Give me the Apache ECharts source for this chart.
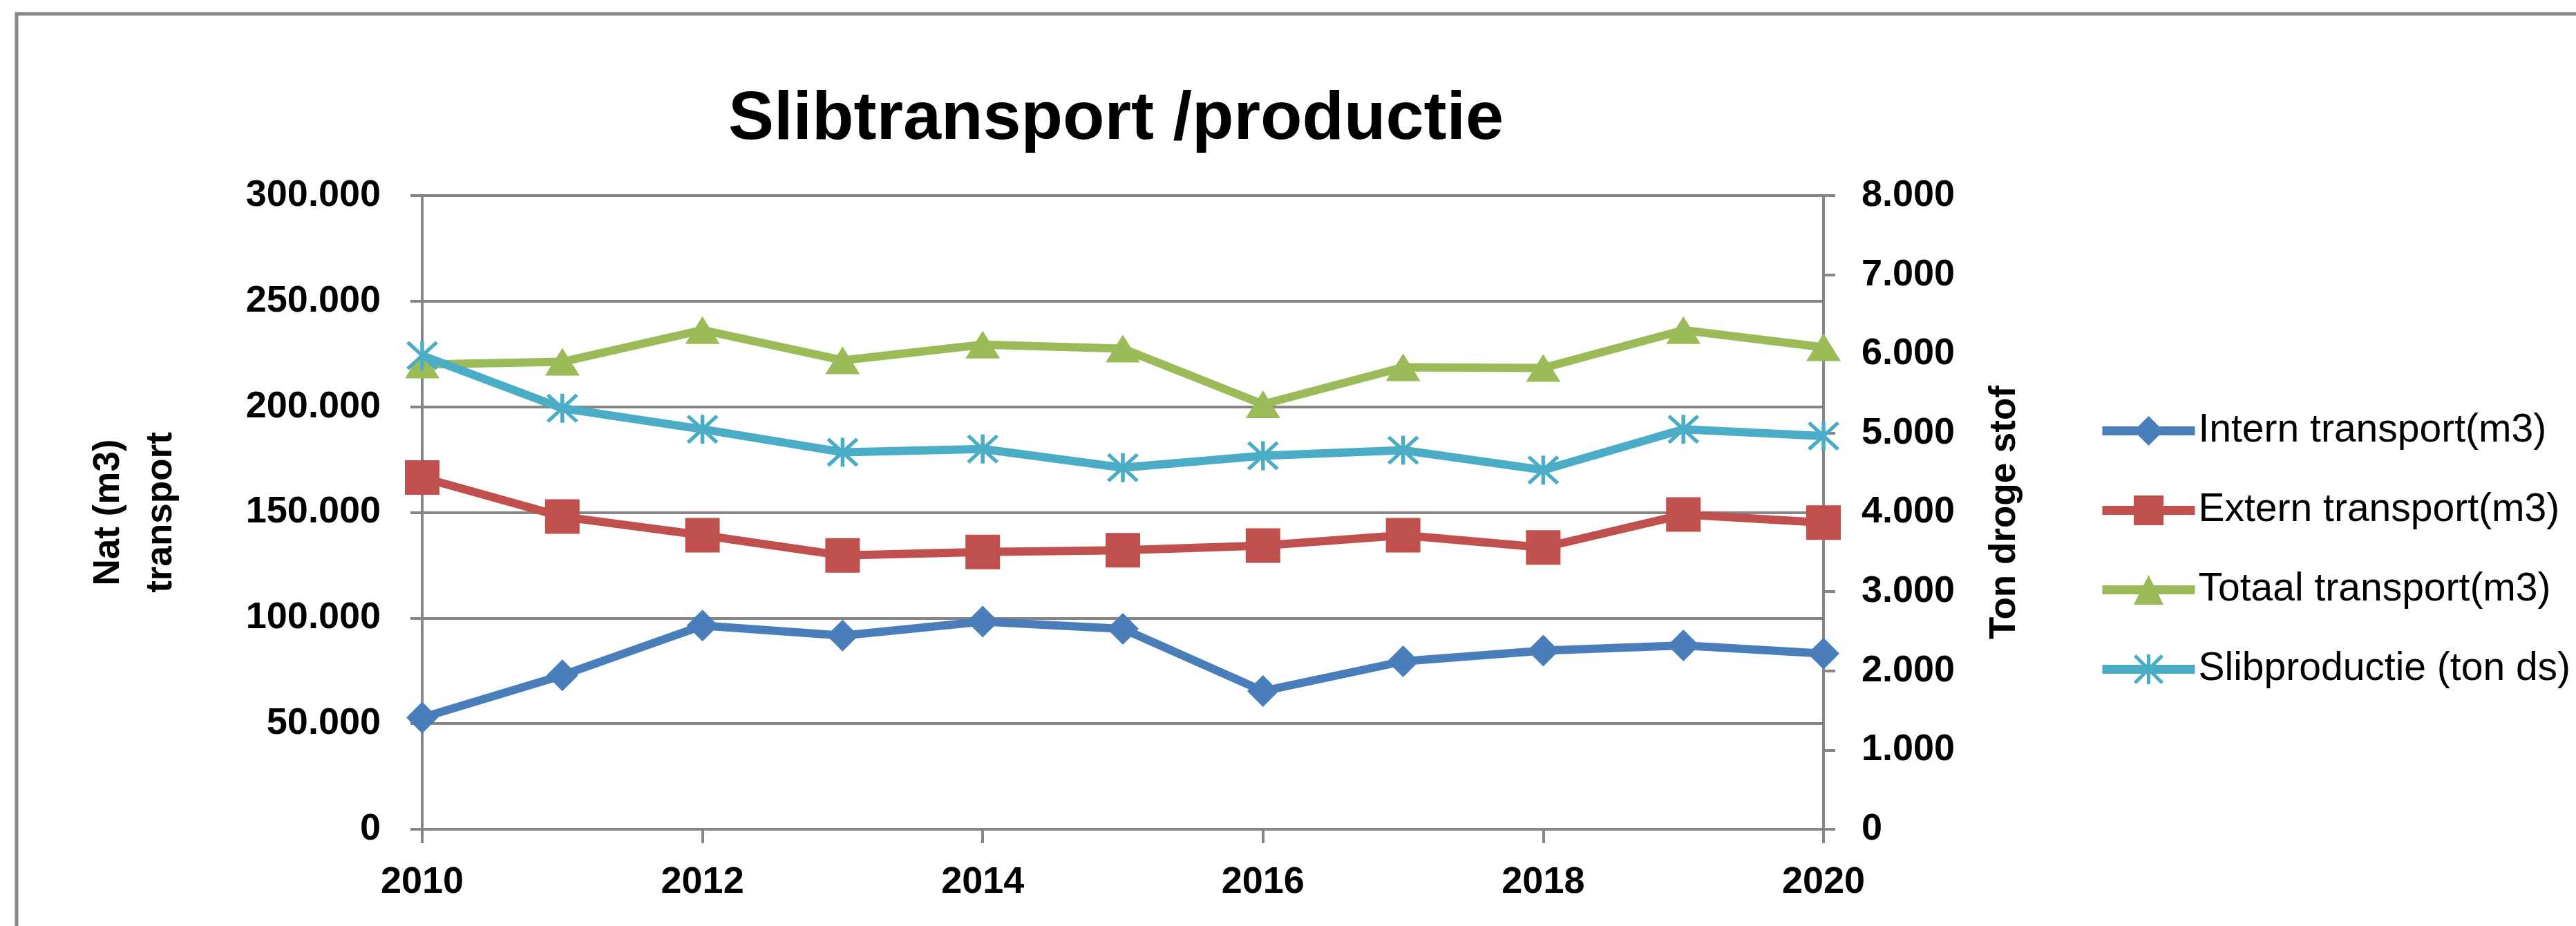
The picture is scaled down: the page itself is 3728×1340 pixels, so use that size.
<!DOCTYPE html>
<html>
<head>
<meta charset="utf-8">
<script src="https://cdn.jsdelivr.net/npm/echarts@6/dist/echarts.min.js"></script>
<style>
  html, body { margin: 0; padding: 0; background: #fff; }
  #chart { width: 3728px; height: 1340px; }
</style>
</head>
<body>
<div id="chart"></div>
<script>
const years = ["2010", "2011", "2012", "2013", "2014", "2015", "2016", "2017", "2018", "2019", "2020"]
const intern = [52800, 72900, 96400, 91700, 98300, 94900, 65400, 79500, 84600, 87000, 83200]
const extern = [166500, 148000, 139200, 129600, 131300, 132100, 134300, 139200, 133400, 149000, 145200]
const totaal = [220000, 221300, 236300, 222000, 229400, 227500, 201200, 218700, 218400, 236300, 228200]
const slib = [5980, 5315, 5050, 4760, 4800, 4565, 4715, 4785, 4535, 5050, 4965]
const seriesNames = ["Intern transport(m3)", "Extern transport(m3)", "Totaal transport(m3)", "Slibproductie (ton ds)"]

const grey = "#868686"
// excel "*" marker: vertical bar + X
const asterisk = "path://M8.8,0L11.2,0L11.2,20L8.8,20Z M0,1.7L1.7,0L20,18.3L18.3,20Z M18.3,0L20,1.7L1.7,20L0,18.3Z"

const dots = v => v === 0 ? "0" : String(v).replace(/\B(?=(\d{3})+(?!\d))/g, ".")

const tickLabel = {
  fontFamily: "Liberation Sans",
  fontWeight: "bold",
  fontSize: 54,
  color: "#000"
}
const axisName = { fontFamily: "Liberation Sans", fontWeight: "bold", fontSize: 53, color: "#000" }

const lineSeries = (name, data, color, symbol, size, yIdx) => ({
  name: name,
  type: "line",
  data: data,
  yAxisIndex: yIdx,
  symbol: symbol,
  symbolSize: size,
  showAllSymbol: true,
  lineStyle: { color: color, width: 12 },
  itemStyle: { color: color },
  emphasis: { disabled: true },
  animation: false
})

const chart = echarts.init(document.getElementById("chart"))
chart.setOption({
  animation: false,
  title: {
    text: "Slibtransport /productie",
    left: 1610,
    top: 119,
    textAlign: "center",
    textStyle: { fontFamily: "Liberation Sans", fontWeight: "bold", fontSize: 99, color: "#000" }
  },
  graphic: [{
    type: "rect",
    shape: { x: 24, y: 20, width: 3800, height: 1400 },
    style: { fill: "none", stroke: "#878787", lineWidth: 5 },
    silent: true
  }],
  grid: { left: 611, right: 1089, top: 283, bottom: 140 },
  legend: {
    orient: "vertical",
    left: 3031,
    top: 590,
    itemWidth: 134,
    itemHeight: 54,
    itemGap: 58,
    data: seriesNames,
    lineStyle: { width: 13 },
    textStyle: { fontFamily: "Liberation Sans", fontSize: 57, color: "#000" }
  },
  xAxis: {
    type: "category",
    data: years,
    boundaryGap: false,
    axisLine: { lineStyle: { color: grey, width: 4 } },
    axisTick: { interval: 1, length: 20, lineStyle: { color: grey, width: 4 } },
    axisLabel: Object.assign({ interval: 1, margin: 50 }, tickLabel),
    splitLine: { show: false }
  },
  yAxis: [{
    type: "value",
    min: 0,
    max: 300000,
    interval: 50000,
    name: "Nat (m3)\ntransport",
    nameLocation: "middle",
    nameRotate: 90,
    nameGap: 340,
    nameTextStyle: Object.assign({ lineHeight: 76 }, axisName),
    axisLine: { show: true, lineStyle: { color: grey, width: 4 } },
    axisTick: { show: true, length: 17, lineStyle: { color: grey, width: 4 } },
    axisLabel: Object.assign({ margin: 60, formatter: dots }, tickLabel),
    splitLine: { show: true, lineStyle: { color: grey, width: 4 } }
  }, {
    type: "value",
    position: "right",
    min: 0,
    max: 8000,
    interval: 1000,
    name: "Ton droge stof",
    nameLocation: "middle",
    nameRotate: 90,
    nameGap: 236,
    nameTextStyle: axisName,
    axisLine: { show: true, lineStyle: { color: grey, width: 4 } },
    axisTick: { show: true, length: 17, lineStyle: { color: grey, width: 4 } },
    axisLabel: Object.assign({ margin: 55, formatter: dots }, tickLabel),
    splitLine: { show: false }
  }],
  series: [
    lineSeries(seriesNames[0], intern, "#4A7EBB", "diamond", [46, 46], 0),
    lineSeries(seriesNames[1], extern, "#C0504D", "rect", 50, 0),
    lineSeries(seriesNames[2], totaal, "#9BBB59", "triangle", [50, 40], 0),
    lineSeries(seriesNames[3], slib, "#4BACC6", asterisk, [46, 42], 1)
  ]
})
</script>
</body>
</html>
